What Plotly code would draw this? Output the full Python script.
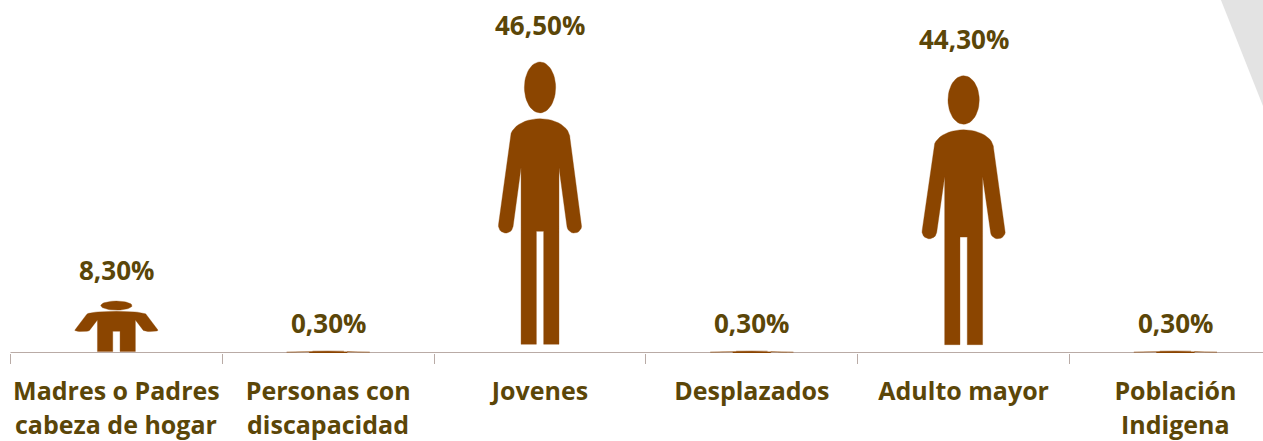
# Pictogram chart: population groups, one stretched person figure per category
import math
import plotly.graph_objects as go

categories = ['Madres o Padres<br>cabeza de hogar', 'Personas con<br>discapacidad', 'Jovenes',
              'Desplazados', 'Adulto mayor', 'Población<br>Indigena']
values = [8.3, 0.3, 46.5, 0.3, 44.3, 0.3]
value_labels = ['8,30%', '0,30%', '46,50%', '0,30%', '44,30%', '0,30%']

half_width = 0.198  # bar is 84px wide in a 212px category
colour = '#8B4500'
text_colour = '#5B4608'
line_colour = '#B9ABA6'
label_shift = [31, 28, 37, 28, 37, 28]


def arc(cu, cv, ru, rv, start, end, n=12):
    # points along an ellipse, angles in degrees, used for the rounded parts of the figure
    angles = [math.radians(start + (end - start) * k / n) for k in range(n + 1)]
    return [(cu + ru * math.cos(a), cv + rv * math.sin(a)) for a in angles]


# Person outline, right half only. u = share of half width, v = share of height.
body_half = (arc(0, .738, .714, .067, 90, 0) + arc(.817, .437, .175, .025, 10, -175)
             + [(.452, .637), (.452, .03), (.087, .03), (.087, .418)])
head_half = arc(0, .9125, .373, .0875, 90, -90, n=24)

fig = go.Figure()

for i, val in enumerate(values):
    # mirror the half outline to get the full figure, then scale it by the value
    xs, ys = [], []
    for half in (body_half, head_half):
        xs += [i + u * half_width for u, v in half] + [i - u * half_width for u, v in reversed(half)] + [None]
        ys += [val * v for u, v in half] + [val * v for u, v in reversed(half)] + [None]
    fig.add_trace(go.Scatter(x=xs, y=ys, mode='lines', fill='toself', fillcolor=colour,
                             line=dict(color='rgba(139,69,0,0.35)', width=1), hoverinfo='skip', showlegend=False))
    fig.add_annotation(x=i, y=val, text=value_labels[i], showarrow=False, yanchor='middle',
                       yshift=label_shift[i], font=dict(family='Open Sans', size=26, color=text_colour, weight='bold'))

    # second line of the category label, plotly's own line height is too tight here
    lines = categories[i].split('<br>')
    if len(lines) > 1:
        fig.add_annotation(x=i, y=0, yref='y', text=lines[1], showarrow=False, yanchor='middle', yshift=-71,
                           font=dict(family='Open Sans', size=25, color=text_colour, weight='bold'))

# Grey corner decoration at the top right
fig.add_shape(type='path', xref='paper', yref='paper', path='M 0.9667 1 L 1 0.70 L 1 1 Z',
              fillcolor='#E3E3E3', line_width=0, layer='below')

# Baseline runs off the right edge, as in the original
fig.add_shape(type='line', xref='x', yref='y', x0=-0.5, x1=5.5, y0=0, y1=0,
              line=dict(color=line_colour, width=2), layer='below')

fig.update_xaxes(range=[-0.5496, 5.4134], tickmode='array', tickvals=list(range(len(categories))),
                 ticktext=['<b>' + c.split('<br>')[0] + '</b>' for c in categories],
                 ticks='', showgrid=False, zeroline=False, showline=False, ticklabelstandoff=21,
                 tickfont=dict(family='Open Sans', size=25, color=text_colour),
                 minor=dict(tickmode='array', tickvals=[i - 0.5 for i in range(7)], ticks='outside',
                            ticklen=10, tickwidth=1, tickcolor=line_colour, showgrid=False))
fig.update_yaxes(range=[0, 56.4], visible=False)
fig.update_layout(width=1263, height=441, margin=dict(l=0, r=0, t=0, b=88),
                  paper_bgcolor='white', plot_bgcolor='white')

fig.write_html("out.html", config=dict(displayModeBar=False), post_script="document.body.style.margin='0';")
